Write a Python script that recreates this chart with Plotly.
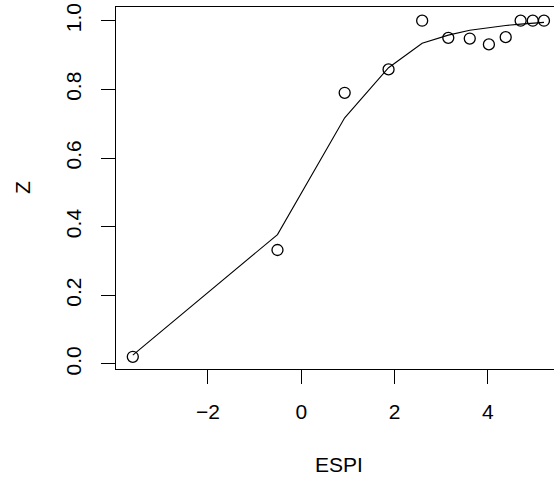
import plotly.graph_objects as go

espi = [-3.61, -0.51, 0.93, 1.87, 2.59, 3.15, 3.61, 4.02, 4.38, 4.70, 4.96, 5.20]
z_obs = [0.021, 0.332, 0.790, 0.858, 1.0, 0.950, 0.948, 0.931, 0.952, 1.0, 1.0, 1.0]
z_fit = [0.026, 0.377, 0.717, 0.863, 0.934, 0.958, 0.972, 0.980, 0.986, 0.990, 0.993, 0.995]
x_ticks = [-2, 0, 2, 4]
x_tick_labels = ["\u22122", "0", "2", "4"]
y_ticks = [0.0, 0.2, 0.4, 0.6, 0.8, 1.0]
y_tick_labels = ["0.0", "0.2", "0.4", "0.6", "0.8", "1.0"]

FONT = "Liberation Sans, Arial, Helvetica, sans-serif"
FS = 21

# plot area spans page x 116..554 (box continues past the right edge), y 7..369
fig = go.Figure()
fig.add_trace(go.Scatter(x=espi, y=z_fit, mode="lines",
                         line=dict(color="black", width=1.1), showlegend=False))
fig.add_trace(go.Scatter(x=espi, y=z_obs, mode="markers",
                         marker=dict(symbol="circle-open", size=11, color="black",
                                     line=dict(width=1.3, color="black")),
                         showlegend=False))

fig.update_layout(
    width=554, height=477,
    margin=dict(l=116, r=0, t=7, b=108, pad=0),
    paper_bgcolor="white", plot_bgcolor="white",
    font=dict(family=FONT, size=FS, color="black"),
    xaxis=dict(range=[-3.97, 5.415], tickvals=x_ticks, ticktext=x_tick_labels,
               showgrid=False, zeroline=False, showline=True, mirror=True,
               linecolor="black", linewidth=1.3, ticks="outside", ticklen=14,
               tickcolor="black", tickwidth=1, ticklabelstandoff=10),
    yaxis=dict(range=[-0.0146, 1.0399], tickvals=y_ticks, ticktext=y_tick_labels,
               tickangle=-90, showgrid=False, zeroline=False, showline=True, mirror=False,
               linecolor="black", linewidth=1.3, ticks="outside", ticklen=14,
               tickcolor="black", tickwidth=1, ticklabelstandoff=11),
    annotations=[
        dict(text="ESPI", xref="paper", yref="paper", x=(339 - 116) / 438, y=(369 - 464) / 362,
             xanchor="center", yanchor="middle", showarrow=False,
             font=dict(family=FONT, size=FS, color="black")),
        dict(text="Z", xref="paper", yref="paper", x=(22 - 116) / 438, y=0.5, textangle=-90,
             xanchor="center", yanchor="middle", showarrow=False,
             font=dict(family=FONT, size=FS, color="black")),
    ],
)

fig.write_html("out.html", config={"displayModeBar": False},
               post_script="document.body.style.margin='0';document.body.style.overflow='hidden';")
